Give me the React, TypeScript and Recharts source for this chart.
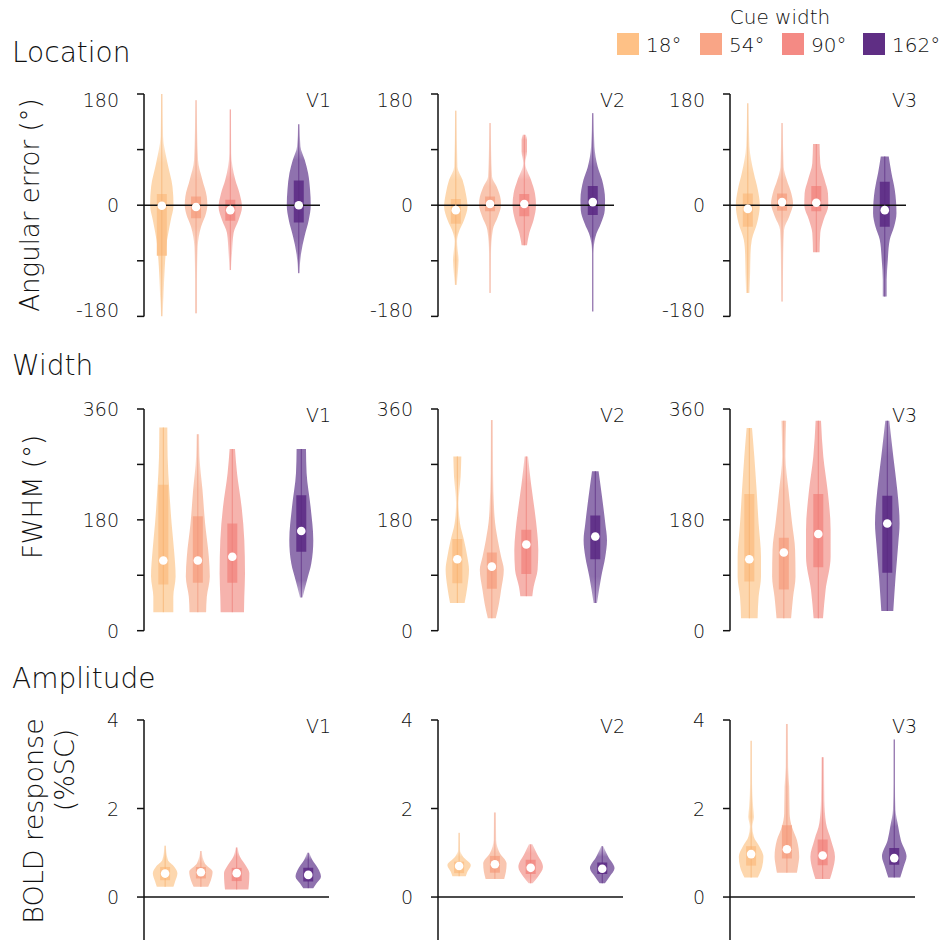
import React from "react";
import { ComposedChart, Area, Line, XAxis, YAxis, ReferenceLine } from "recharts";

// cue widths shown in the legend, and the x slot of each condition
const cueWidths = ["18°", "54°", "90°", "162°"];
const slots = [1, 2, 3, 5];
const regions = ["V1", "V2", "V3"];

type Violin = { shape: [number, number][]; q1: number; med: number; q3: number };

// shape = [value, relative density]
const locationV1: Violin[] = [
  { shape: [[180, 0.7], [111, 1.3], [68, 5.7], [30, 10.7], [0, 11.7], [-24, 9], [-56, 5.3], [-99, 3], [-148, 1.7], [-180, 0.7]], q1: -82, med: -1, q3: 18 },
  { shape: [[170, 0.7], [73, 2], [41, 6.3], [14, 10.7], [0, 11.3], [-13, 10], [-35, 5], [-67, 1.7], [-121, 1], [-175, 1]], q1: -21, med: -3, q3: 14 },
  { shape: [[155, 0.7], [84, 1], [41, 5], [19, 9.3], [-3, 11.7], [-24, 8.3], [-45, 3.3], [-78, 1.7], [-105, 0.7]], q1: -25, med: -8, q3: 9 },
  { shape: [[131, 0.7], [95, 1.7], [73, 6], [52, 9.3], [25, 11.3], [0, 12], [-24, 10], [-51, 5.7], [-78, 2.3], [-110, 0.7]], q1: -28, med: 0, q3: 40 },
];
const locationV2: Violin[] = [
  { shape: [[153, 0.7], [62, 1.7], [41, 6.7], [19, 10], [-2, 11.7], [-24, 8.3], [-45, 2.7], [-58, 1.3], [-89, 2.7], [-110, 2], [-129, 1]], q1: -30, med: -8, q3: 10 },
  { shape: [[133, 0.7], [46, 2], [30, 6.7], [9, 10.7], [0, 11], [-18, 8], [-40, 2.7], [-78, 1], [-142, 0.7]], q1: -10, med: 2, q3: 14 },
  { shape: [[114, 1.5], [106, 2.7], [87, 2.7], [68, 1], [41, 6.7], [19, 10.7], [0, 11.7], [-24, 9.3], [-45, 5], [-65, 2.7]], q1: -18, med: 2, q3: 18 },
  { shape: [[149, 0.7], [95, 1.7], [62, 5], [41, 9.3], [9, 12.3], [-8, 12], [-29, 8.3], [-51, 2.7], [-78, 0.7], [-172, 0.7]], q1: -16, med: 5, q3: 31 },
];
const locationV3: Violin[] = [
  { shape: [[165, 0.7], [95, 1.7], [52, 6], [25, 10], [0, 12], [-29, 9.3], [-56, 4], [-78, 2.7], [-110, 2.3], [-142, 1.7]], q1: -35, med: -6, q3: 19 },
  { shape: [[133, 0.7], [62, 1.7], [41, 4.7], [19, 9.3], [3, 11], [-18, 7.3], [-40, 2], [-78, 1.3], [-156, 0.7]], q1: -9, med: 5, q3: 19 },
  { shape: [[99, 3.3], [68, 4], [41, 8.3], [19, 11.7], [0, 12], [-24, 7.3], [-45, 4], [-76, 3.3]], q1: -10, med: 4, q3: 31 },
  { shape: [[79, 4], [52, 6.7], [25, 10], [-13, 11.7], [-35, 9.3], [-56, 5], [-89, 3], [-121, 2], [-148, 2]], q1: -35, med: -8, q3: 38 },
];

const widthV1: Violin[] = [
  { shape: [[330, 4], [283, 4.3], [228, 6], [174, 8.3], [131, 10.7], [88, 12.3], [55, 10], [30, 10]], q1: 75, med: 114, q3: 237 },
  { shape: [[319, 1.3], [283, 1.7], [228, 4.7], [174, 7.3], [120, 11], [88, 12], [55, 9], [30, 8.3]], q1: 78, med: 114, q3: 186 },
  { shape: [[295, 2.7], [256, 4.7], [201, 9.3], [147, 12], [93, 12.7], [55, 12], [30, 11.7]], q1: 78, med: 120, q3: 174 },
  { shape: [[295, 4.7], [256, 5.3], [201, 9.3], [147, 12], [109, 10], [82, 5.7], [54, 1.3]], q1: 128, med: 162, q3: 220 },
];
const widthV2: Violin[] = [
  { shape: [[283, 4], [250, 3.3], [207, 1.3], [174, 2.7], [147, 6.7], [120, 10], [99, 11.7], [71, 10], [45, 7.3]], q1: 77, med: 116, q3: 149 },
  { shape: [[342, 1], [256, 1.3], [185, 2.7], [147, 6], [120, 9.3], [99, 12], [66, 9.3], [45, 7.3], [20, 4]], q1: 68, med: 104, q3: 127 },
  { shape: [[283, 1.7], [239, 4.7], [196, 8.3], [158, 11], [131, 12], [99, 11.3], [71, 7.3], [56, 6]], q1: 92, med: 140, q3: 164 },
  { shape: [[259, 3.3], [218, 6.7], [174, 10], [147, 11.7], [120, 10], [88, 6], [45, 1.7]], q1: 116, med: 153, q3: 187 },
];
const widthV3: Violin[] = [
  { shape: [[329, 2.7], [283, 5], [228, 7.3], [174, 9.3], [120, 11.7], [88, 11.7], [55, 9.3], [20, 8.3]], q1: 80, med: 116, q3: 222 },
  { shape: [[341, 2.3], [283, 1.7], [228, 4.7], [174, 8.3], [131, 11.3], [88, 11.7], [55, 9.3], [20, 7.3]], q1: 67, med: 127, q3: 151 },
  { shape: [[341, 2.7], [283, 5], [228, 9.3], [164, 12.3], [120, 12.3], [66, 7.3], [20, 4.7]], q1: 103, med: 157, q3: 222 },
  { shape: [[341, 2], [283, 6], [228, 10], [174, 12.3], [142, 11], [88, 8.3], [32, 6]], q1: 94, med: 174, q3: 219 },
];

const amplitudeV1: Violin[] = [
  { shape: [[1.16, 0.7], [0.84, 2.7], [0.68, 9.3], [0.54, 12.3], [0.35, 10], [0.23, 8.3]], q1: 0.38, med: 0.53, q3: 0.68 },
  { shape: [[1.04, 0.7], [0.76, 4], [0.57, 11.7], [0.38, 10], [0.23, 7.3]], q1: 0.42, med: 0.56, q3: 0.68 },
  { shape: [[1.12, 1], [0.91, 3.3], [0.68, 10], [0.54, 12.7], [0.31, 12.3], [0.17, 11.7]], q1: 0.36, med: 0.54, q3: 0.66 },
  { shape: [[1.0, 1], [0.84, 4], [0.61, 10.7], [0.46, 12.7], [0.31, 8.3], [0.2, 5]], q1: 0.35, med: 0.5, q3: 0.66 },
];
const amplitudeV2: Violin[] = [
  { shape: [[1.45, 0.7], [1.06, 1], [0.91, 4], [0.72, 11.7], [0.57, 8.3], [0.47, 6.7]], q1: 0.54, med: 0.7, q3: 0.8 },
  { shape: [[1.91, 1], [1.29, 1.3], [0.99, 5], [0.76, 11.7], [0.57, 11], [0.41, 9.3]], q1: 0.55, med: 0.74, q3: 0.93 },
  { shape: [[1.19, 1.7], [0.99, 6], [0.68, 12.3], [0.46, 7.3], [0.31, 2]], q1: 0.52, med: 0.66, q3: 0.84 },
  { shape: [[1.15, 1], [0.91, 6], [0.65, 12.3], [0.46, 7.3], [0.31, 2.7]], q1: 0.52, med: 0.64, q3: 0.78 },
];
const amplitudeV3: Violin[] = [
  { shape: [[3.53, 0.7], [2.57, 1], [2.04, 2], [1.81, 2.7], [1.59, 1.3], [1.36, 2.7], [1.14, 8.3], [0.91, 12.3], [0.68, 11], [0.44, 6.7]], q1: 0.71, med: 0.97, q3: 1.15 },
  { shape: [[3.91, 1], [2.94, 1.3], [2.49, 2.3], [1.89, 2.7], [1.59, 5], [1.29, 10], [0.91, 12.3], [0.68, 11], [0.55, 10]], q1: 0.87, med: 1.08, q3: 1.62 },
  { shape: [[3.16, 1.3], [2.19, 1.7], [1.67, 3.3], [1.29, 8.3], [0.91, 12.3], [0.61, 10], [0.41, 7.3]], q1: 0.72, med: 0.94, q3: 1.3 },
  { shape: [[3.56, 0.7], [2.57, 0.7], [1.97, 1.3], [1.59, 4], [1.28, 6.7], [0.92, 12.3], [0.68, 9.3], [0.44, 6]], q1: 0.73, med: 0.88, q3: 1.11 },
];

const palette = [
  { violin: "#FDD7AE", box: "#FCC38C", line: "#F7B06E", key: "#FEC186" },
  { violin: "#F9C6B0", box: "#F7A88B", line: "#F0977B", key: "#F9A586" },
  { violin: "#F6B3AD", box: "#F38F89", line: "#EC7E77", key: "#F48A84" },
  { violin: "#8F72AE", box: "#62338A", line: "#5A2981", key: "#5F2E84" },
];

const FONT = "'DejaVu Sans', sans-serif";
const INK = "#111111";
const AXIS_X = [144, 438, 730];
const Y_W = 100;
const M_TOP = 12;
const M_BOTTOM = 16;
const BOX_HALF = 5; // px
const DOT_R = 4.3;

const rows = [
  {
    key: "loc", title: "Location", titleY: 62, panels: [locationV1, locationV2, locationV3],
    domain: [-180, 180], ticks: [-180, -90, 0, 90, 180], labelled: [-180, 0, 180], endShift: 6,
    zero: true, top: 94.3, height: 222.4, xDomain: [0.48, 5.62], width: 176,
  },
  {
    key: "wid", title: "Width", titleY: 375, panels: [widthV1, widthV2, widthV3],
    domain: [0, 360], ticks: [0, 90, 180, 270, 360], labelled: [0, 180, 360], endShift: 0,
    zero: false, top: 409, height: 221.7, xDomain: [0.44, 5.6], width: 178,
  },
  {
    key: "amp", title: "Amplitude", titleY: 688, panels: [amplitudeV1, amplitudeV2, amplitudeV3],
    domain: [-1, 4], ticks: [0, 2, 4], labelled: [0, 2, 4], endShift: 0,
    zero: true, top: 720, height: 221.3, xDomain: [0.41, 5.58], width: 185,
  },
];

type Row = (typeof rows)[number];

const gradId = (r: string, c: number, i: number) => `fade-${r}-${c}-${i}`;

// thin tails of each violin fade out, as in the original
function Fades() {
  return (
    <svg width={0} height={0} style={{ position: "absolute" }}>
      <defs>
        {rows.map((row) =>
          row.panels.map((violins, c) =>
            violins.map((v, i) => {
              const hi = v.shape[0][0];
              const lo = v.shape[v.shape.length - 1][0];
              return (
                <linearGradient key={gradId(row.key, c, i)} id={gradId(row.key, c, i)} x1="0" y1="0" x2="0" y2="1">
                  {v.shape.map(([y, d]) => (
                    <stop key={y} offset={(hi - y) / (hi - lo)} stopColor={palette[i].violin} stopOpacity={Math.max(0.25, Math.min(1, d / 2.6))} />
                  ))}
                </linearGradient>
              );
            })
          )
        )}
      </defs>
    </svg>
  );
}

const AxisTick = (props: any) => {
  const { x, y, payload, labelled, lo, hi, shift } = props;
  if (!labelled.includes(payload.value)) return <g />;
  let dy = 0;
  if (payload.value === hi) dy = shift;
  if (payload.value === lo) dy = -shift;
  return (
    <text x={x} y={y + dy} textAnchor="end" dominantBaseline="central" fontSize={19} fontFamily={FONT} fontWeight={300} fill={INK}>
      {payload.value}
    </text>
  );
};

function buildRows(violins: Violin[], row: Row) {
  const kx = (row.xDomain[1] - row.xDomain[0]) / row.width;
  const ys = new Set<number>();
  violins.forEach((v) => {
    v.shape.forEach(([y]) => ys.add(y));
    ys.add(v.q1);
    ys.add(v.q3);
    ys.add(v.med);
  });
  return [...ys].sort((a, b) => a - b).map((y) => {
    const r: any = { y };
    violins.forEach((v, i) => {
      const c = slots[i];
      const s = v.shape.find((p) => p[0] === y);
      r[`v${i}`] = s ? [c - s[1] * kx, c + s[1] * kx] : [null, null];
      r[`b${i}`] = y === v.q1 || y === v.q3 ? [c - BOX_HALF * kx, c + BOX_HALF * kx] : [null, null];
      const ends = y === v.shape[0][0] || y === v.shape[v.shape.length - 1][0];
      r[`l${i}`] = ends ? c : null;
      r[`m${i}`] = y === v.med ? c : null;
    });
    return r;
  });
}

function Panel({ row, col }: { row: Row; col: number }) {
  const violins = row.panels[col];
  const data = buildRows(violins, row);
  return (
    <div style={{ position: "absolute", left: AXIS_X[col] - Y_W, top: row.top - M_TOP }}>
      <ComposedChart
        layout="vertical"
        width={Y_W + row.width + 10}
        height={row.height + M_TOP + M_BOTTOM}
        data={data}
        margin={{ top: M_TOP, right: 10, bottom: M_BOTTOM, left: 0 }}
      >
        <XAxis type="number" domain={row.xDomain} hide allowDataOverflow />
        <YAxis
          type="number"
          dataKey="y"
          domain={row.domain}
          ticks={row.ticks}
          interval={0}
          reversed
          allowDataOverflow
          width={Y_W}
          tickSize={7}
          tickMargin={18}
          axisLine={{ stroke: INK, strokeWidth: 1.5 }}
          tickLine={{ stroke: INK, strokeWidth: 1.5 }}
          tick={<AxisTick labelled={row.labelled} lo={row.labelled[0]} hi={row.labelled[row.labelled.length - 1]} shift={row.endShift} />}
        />
        {violins.map((_, i) => (
          <Area key={`v${i}`} dataKey={`v${i}`} type="monotone" fill={`url(#${gradId(row.key, col, i)})`} fillOpacity={1} stroke="none" connectNulls isAnimationActive={false} />
        ))}
        {violins.map((_, i) => (
          <Area key={`b${i}`} dataKey={`b${i}`} type="linear" fill={palette[i].box} fillOpacity={1} stroke="none" connectNulls isAnimationActive={false} />
        ))}
        {row.zero && <ReferenceLine y={0} stroke={INK} strokeWidth={1.5} />}
        {violins.map((_, i) => (
          <Line key={`l${i}`} dataKey={`l${i}`} type="linear" stroke={palette[i].line} strokeOpacity={0.7} strokeWidth={1} dot={false} connectNulls isAnimationActive={false} />
        ))}
        {violins.map((_, i) => (
          <Line key={`m${i}`} dataKey={`m${i}`} stroke="none" dot={{ r: DOT_R, fill: "#ffffff", stroke: "none", strokeWidth: 0 }} isAnimationActive={false} />
        ))}
      </ComposedChart>
    </div>
  );
}

export default function App() {
  const swatchX = [617, 700, 782, 863];
  return (
    <div style={{ position: "absolute", left: 0, top: 0, width: 946, height: 940, overflow: "hidden", background: "#fff" }}>
      <Fades />
      {rows.map((row, r) => [0, 1, 2].map((c) => <Panel key={`${r}-${c}`} row={row} col={c} />))}
      <svg width={946} height={940} style={{ position: "absolute", left: 0, top: 0, pointerEvents: "none" }} fontFamily={FONT} fontWeight={300} fill={INK}>
        {rows.map((row) => (
          <text key={row.title} x={12} y={row.titleY} fontSize={28}>{row.title}</text>
        ))}
        {rows.map((row) =>
          regions.map((name, c) => (
            <text key={row.title + name} x={AXIS_X[c] + 187} y={row.top + 12.5} fontSize={19} textAnchor="end">{name}</text>
          ))
        )}
        <text transform="translate(30,205) rotate(-90)" textAnchor="middle" dominantBaseline="central" fontSize={26}>Angular error (°)</text>
        <text transform="translate(33,497) rotate(-90)" textAnchor="middle" dominantBaseline="central" fontSize={26}>FWHM (°)</text>
        <text transform="translate(33,821) rotate(-90)" textAnchor="middle" dominantBaseline="central" fontSize={27}>BOLD response</text>
        <text transform="translate(64,770) rotate(-90)" textAnchor="middle" dominantBaseline="central" fontSize={27}>(%SC)</text>
        <text x={780} y={24} textAnchor="middle" fontSize={20}>Cue width</text>
        {cueWidths.map((label, i) => (
          <g key={label}>
            <rect x={swatchX[i]} y={33} width={22} height={22} fill={palette[i].key} />
            <text x={swatchX[i] + 29} y={52} fontSize={20}>{label}</text>
          </g>
        ))}
      </svg>
    </div>
  );
}
